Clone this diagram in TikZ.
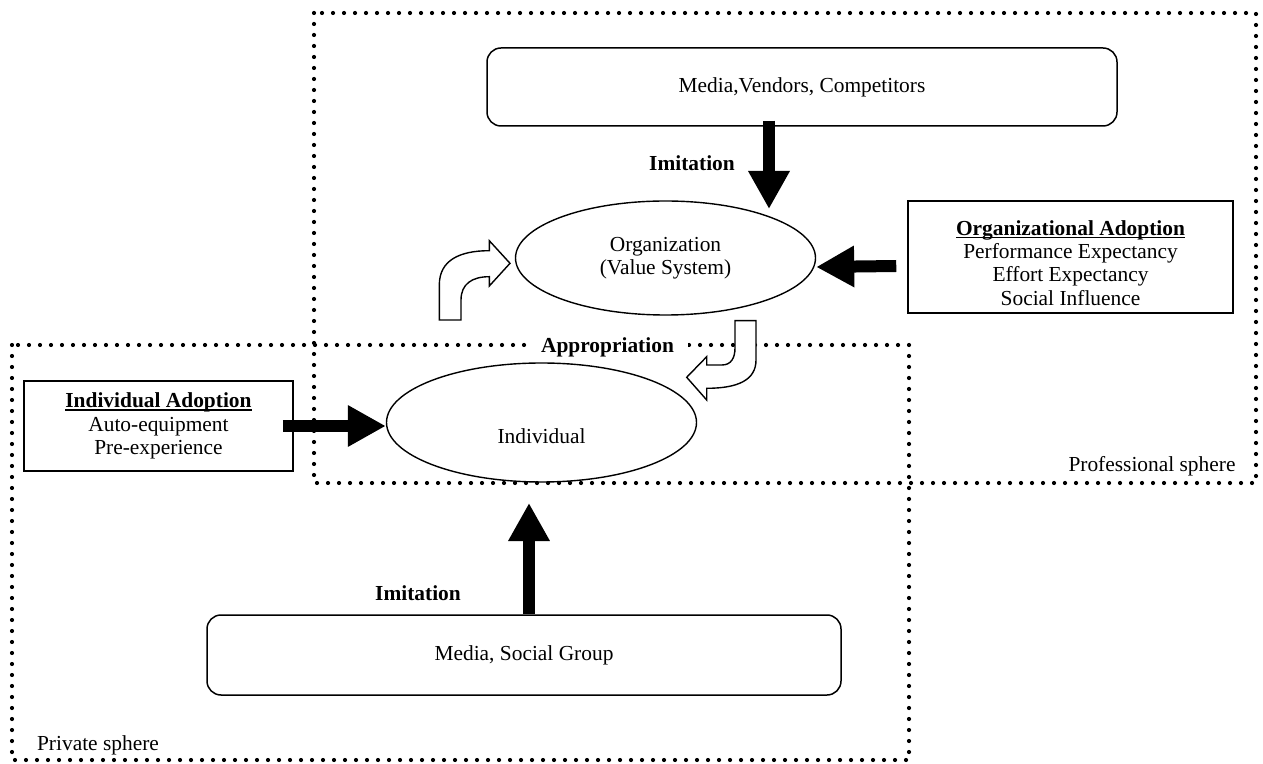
\documentclass[tikz,border=0pt]{standalone}
\usepackage{fontspec}
\setmainfont{Liberation Serif}
\usepackage{tikz}
\usetikzlibrary{shapes}
\usetikzlibrary{shapes.geometric}
\usetikzlibrary{arrows.meta}
\usetikzlibrary{calc}

\newcommand{\ulbold}[1]{\setbox0\hbox{\textbf{#1}}\rlap{\rule[-1.3pt]{\wd0}{0.7pt}}\box0}

\tikzset{
  sphere/.style = {line width=2.1pt, line cap=round, dash pattern=on 0pt off 5.5pt},
  roundbox/.style = {draw, line width=0.75pt, rounded corners=7pt},
  plainbox/.style = {draw, line width=0.75pt},
  oval/.style = {draw, ellipse, line width=0.7pt, align=center},
  bigarrow/.style = {line width=6pt, -{Triangle[length=19pt, width=19.5pt]}},
  hollowarrow/.style = {draw, fill=white, line width=0.7pt, line join=miter},
  lbl/.style = {inner sep=1pt}
}

\begin{document}
\begin{tikzpicture}[x=0.5pt, y=-0.5pt, every node/.style={font=\fontsize{10.7pt}{11.6pt}\selectfont}]
  \useasboundingbox (0,0) rectangle (1263,764);
  % spheres
  \draw[sphere] (314,13) rectangle (1256,483);
  \draw[sphere] (12,345) rectangle (909,760);
  \node[lbl] (prof) at (1152,466) {Professional sphere};
  \node[lbl] (priv) at (98,745) {Private sphere};

  \node[roundbox, minimum width=315pt, minimum height=39pt] (mvc) at (802,87) {Media,Vendors, Competitors};
  \node[oval, minimum width=150pt, minimum height=57pt] (org) at (665.5,258) {Organization\\(Value System)};
  \node[plainbox, minimum width=162.5pt, minimum height=56pt] (orgad) at (1070.5,257) {};
  \node[align=center] (orgadtxt) at ([yshift=-3pt]orgad.center) {\ulbold{Organizational Adoption}\\Performance Expectancy\\Effort Expectancy\\Social Influence};
  \node[oval, minimum width=155pt, minimum height=59.5pt] (ind) at (541.5,422.5) {};
  \node (indtxt) at ([yshift=-7pt]ind.center) {Individual};
  \node[plainbox, minimum width=134.5pt, minimum height=45pt, align=center] (indad) at (158.5,426) {\ulbold{Individual Adoption}\\Auto-equipment\\Pre-experience};
  \node[roundbox, minimum width=317pt, minimum height=40pt] (msg) at (524,655) {Media, Social Group};

  % imitation / adoption arrows
  \coordinate (orgtip) at (769,209);
  \coordinate (indtip) at (529,503);
  \draw[bigarrow] ($(orgtip |- mvc.south)+(0,-6)$) -- (orgtip);
  \draw[bigarrow] ([xshift=-5.5pt,yshift=-4.5pt]orgad.west) -- ([yshift=-4.5pt]org.east);
  \draw[bigarrow] ([xshift=-5.5pt]indad.east) -- (indad.east -| ind.west);
  \draw[bigarrow] (indtip |- msg.north) -- (indtip);
  \node[lbl] (imtop) at (692,163) {\textbf{Imitation}};
  \node[lbl] (imbot) at (418,593) {\textbf{Imitation}};

  % appropriation
  \node[lbl, fill=white, inner xsep=7pt] (approp) at (607.5,347) {\textbf{Appropriation}};
  \draw[hollowarrow] (439.3,320) -- (439.3,285) .. controls (439.3,260) and (460,250.7) .. (489.3,250.7)
    -- (489.3,240.7) -- (510,263.3) -- (489.3,286) -- (489.3,276.7)
    .. controls (472,276.7) and (461,284) .. (461,300) -- (461,320) -- cycle;
  \draw[hollowarrow] (735,320.7) -- (756,320.7) -- (756,360) .. controls (756,380) and (738,388.3) .. (706.7,388.3)
    -- (706.7,400) -- (686.7,377.3) -- (706.7,356.7) -- (706.7,365) -- (722,365)
    .. controls (731,365) and (735,358) .. (735,348) -- cycle;
\end{tikzpicture}
\end{document}
